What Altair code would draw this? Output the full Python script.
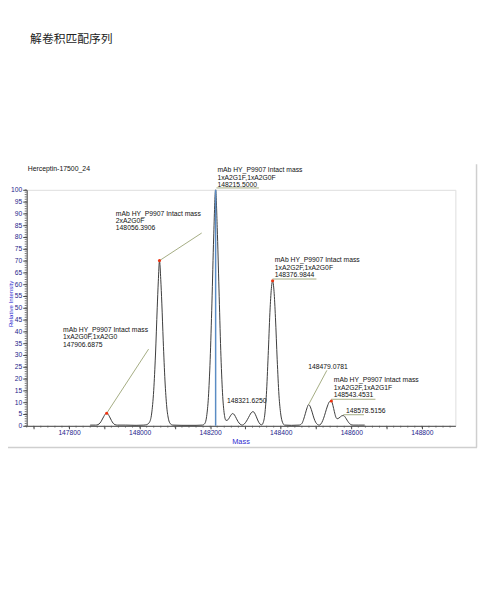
import altair as alt
import pandas as pd

# ---------------- data ----------------
spec_mass = [147860, 147875, 147882, 147888, 147893, 147898, 147902, 147906.7, 147911, 147915,
             147920, 147925, 147930, 147937, 147960, 147990, 148012,
             148020, 148028, 148034, 148040, 148045, 148050, 148053, 148056.4, 148060, 148063,
             148067, 148072, 148077, 148082, 148087, 148094, 148120, 148160, 148178,
             148185, 148190, 148195, 148200, 148205, 148210, 148215.5, 148220, 148225, 148230,
             148235, 148240, 148245, 148250, 148255, 148260, 148264, 148269, 148274, 148279,
             148285, 148291, 148297, 148303, 148309, 148314, 148319, 148322, 148326, 148331,
             148336, 148341, 148346, 148350, 148355, 148360, 148365, 148370, 148374, 148377,
             148381, 148385, 148390, 148395, 148400, 148405, 148411, 148430, 148452,
             148460, 148465, 148470, 148475, 148479, 148484, 148489, 148494, 148499, 148504,
             148509, 148514, 148519, 148524, 148529, 148534, 148538, 148543.5, 148548, 148552,
             148556, 148560, 148565, 148570, 148574, 148578.5, 148583, 148588, 148593, 148598,
             148605, 148620, 148638]
spec_int = [0.3, 0.3, 0.5, 1.2, 2.4, 3.8, 4.8, 5.3, 4.8, 3.8,
            2.3, 1.1, 0.5, 0.3, 0.3, 0.2, 0.3,
            0.5, 1.5, 5, 15, 30, 50, 61, 70, 62, 52,
            36, 19, 8, 2.8, 0.9, 0.3, 0.2, 0.2, 0.3,
            1, 4, 12, 28, 52, 80, 100, 84, 58, 32,
            14, 5, 2.3, 2.5, 3.6, 4.8, 5.2, 4.6, 3.2, 1.8,
            0.7, 0.3, 0.8, 2, 3.6, 5, 5.9, 6.0, 5.4, 3.8,
            2.0, 0.8, 0.4, 1.2, 5, 15, 32, 50, 59, 61.5,
            57, 46, 28, 13, 5, 1.5, 0.3, 0.2, 0.3,
            1, 2.8, 5.3, 7.8, 9, 8, 5.8, 3.3, 1.5, 0.6,
            0.3, 0.8, 2.2, 4.3, 6.8, 9, 10.2, 10.5, 8.6, 6,
            3.8, 3.0, 3.3, 3.9, 4.3, 4.3, 3.6, 2.4, 1.3, 0.6,
            0.3, 0.3, 0.3]

dot_mass = [147906.6875, 148056.3906, 148376.9844, 148543.4531]
dot_int = [5.3, 70, 61.5, 10.5]

main_mass = [148215.5]
main_int = [100]

label_text = ["mAb HY_P9907  Intact mass", "1xA2G0F,1xA2G0", "147906.6875",
              "mAb HY_P9907  Intact mass", "2xA2G0F", "148056.3906",
              "mAb HY_P9907  Intact mass", "1xA2G1F,1xA2G0F", "148215.5000",
              "mAb HY_P9907  Intact mass", "1xA2G2F,1xA2G0F", "148376.9844",
              "148321.6250",
              "148479.0781",
              "mAb HY_P9907  Intact mass", "1xA2G2F,1xA2G1F", "148543.4531",
              "148578.5156"]
label_mass = [147783, 147783, 147783,
              147932.7, 147932.7, 147932.7,
              148220.6, 148220.6, 148220.6,
              148383, 148383, 148383,
              148247.6,
              148477.8,
              148550.3, 148550.3, 148550.3,
              148584.8]
label_int = [40.5, 37.5, 34.4,
             89.9, 86.8, 83.6,
             108.3, 105.2, 102.1,
             70.1, 67.0, 63.9,
             10.7,
             24.7,
             19.3, 16.2, 13.0,
             6.1]

lead_x = [147906.7, 148056.4, 148217.8, 148376.7, 148479.0, 148543.0, 148577.3]
lead_y = [5.3, 70, 100.8, 62.2, 9, 11.25, 4.7]
lead_x2 = [148025.5, 148176.0, 148338.5, 148501.2, 148530.8, 148668.4, 148635.8]
lead_y2 = [32.5, 81.7, 100.8, 62.2, 23.5, 11.25, 4.7]

x_labels = [147800, 148000, 148200, 148400, 148600, 148800]
x_major = list(range(147700, 148900, 100))
x_minor = list(range(147680, 148900, 20))
y_major = list(range(0, 101, 5))
y_minor = list(range(0, 101, 1))

page_title = "解卷积匹配序列"
plot_title = "Herceptin-17500_24"
x_title = "Mass"
y_title = "Relative Intensity"

# ---------------- chart ----------------
W, H = 436, 240
FONT = "Liberation Sans"
LAB_COL = "#24248c"
LEAD_COL = "#a3ab82"

xs = alt.Scale(domain=[147680, 148895], nice=False, zero=False)
ys = alt.Scale(domain=[0, 100], nice=False, zero=False)

x_axis = alt.Axis(
    values=x_major, labelExpr="datum.value % 200 == 0 ? format(datum.value, 'd') : ''",
    tickSize=3, labelFontSize=6.8, labelColor=LAB_COL, labelPadding=1, labelOverlap=False,
    labelFlush=False, domainColor="#444", tickColor="#444", grid=False, title=None)
y_axis = alt.Axis(
    values=y_major, format="d", tickSize=4, labelFontSize=6.8, labelColor=LAB_COL,
    labelPadding=1, labelOverlap=False, labelFlush=False, domainColor="#444",
    tickColor="#444", grid=False, title=None)


def X(f):
    return alt.X(f, scale=xs, axis=x_axis)


def Y(f):
    return alt.Y(f, scale=ys, axis=y_axis)


spec = pd.DataFrame({"mass": spec_mass, "int": spec_int})
base_line = alt.Chart(spec).mark_line(color="#3a3a3a", strokeWidth=1, interpolate="monotone").encode(
    x=X("mass:Q"), y=Y("int:Q"))

xminor = alt.Chart(pd.DataFrame({"mass": x_minor})).mark_rule(color="#555", strokeWidth=0.8).encode(
    x=X("mass:Q"), y=alt.value(H), y2=alt.value(H + 1.8))
yminor = alt.Chart(pd.DataFrame({"int": y_minor})).mark_rule(color="#555", strokeWidth=0.8).encode(
    y=Y("int:Q"), x=alt.value(-2), x2=alt.value(0))

main = alt.Chart(pd.DataFrame({"mass": main_mass, "int": main_int, "z": [0]})).mark_rule(
    color="#5a8cc4", strokeWidth=1.5).encode(
    x=X("mass:Q"), y=Y("z:Q"), y2="int:Q")

leaders = alt.Chart(pd.DataFrame({"mass": lead_x, "int": lead_y, "x2": lead_x2, "y2": lead_y2})).mark_rule(
    color=LEAD_COL, strokeWidth=1).encode(
    x=X("mass:Q"), y=Y("int:Q"), x2="x2:Q", y2="y2:Q")

dots = alt.Chart(pd.DataFrame({"mass": dot_mass, "int": dot_int})).mark_point(
    filled=True, color="#ee3311", size=10, opacity=1).encode(
    x=X("mass:Q"), y=Y("int:Q"))

labels = alt.Chart(pd.DataFrame({"t": label_text, "mass": label_mass, "int": label_int})).mark_text(
    align="left", baseline="middle", fontSize=6.9, font=FONT, color="#111").encode(
    x=X("mass:Q"), y=Y("int:Q"), text="t:N")

head = alt.Chart(pd.DataFrame({"t": [page_title]})).mark_text(
    align="left", baseline="middle", fontSize=12, font="Noto Sans CJK SC", color="#222").encode(
    x=alt.value(3.5), y=alt.value(-153.5), text="t:N")

ptitle = alt.Chart(pd.DataFrame({"t": [plot_title]})).mark_text(
    align="left", baseline="middle", fontSize=7, font=FONT, color="#111").encode(
    x=alt.value(1), y=alt.value(-21), text="t:N")

xt = alt.Chart(pd.DataFrame({"t": [x_title]})).mark_text(
    align="center", baseline="middle", fontSize=7.5, font=FONT, color="#2b2bd0").encode(
    x=alt.value(218), y=alt.value(257), text="t:N")

yt = alt.Chart(pd.DataFrame({"t": [y_title]})).mark_text(
    align="center", baseline="middle", fontSize=6.2, font=FONT, color="#2b2bd0", angle=270).encode(
    x=alt.value(-16.0), y=alt.value(116), text="t:N")

frame_v = alt.Chart(pd.DataFrame({"k": [0]})).mark_rule(color="#cfcfcf", strokeWidth=1.5).encode(
    x=alt.value(457.5), y=alt.value(-26), y2=alt.value(262))
frame_h = alt.Chart(pd.DataFrame({"k": [0]})).mark_rule(color="#cfcfcf", strokeWidth=1.5).encode(
    x=alt.value(-19), x2=alt.value(458), y=alt.value(262))

chart = alt.layer(
    base_line, frame_v, frame_h, xminor, yminor, leaders, main, dots, labels, head, ptitle, xt, yt
).properties(
    width=W, height=H,
    autosize=alt.AutoSizeParams(type="none"),
    padding={"left": 19, "top": 181, "right": 23, "bottom": 40},
    background="white",
).configure_view(stroke=None).configure(font=FONT)

chart.save("out.html", embed_options={"renderer": "svg", "actions": False})
